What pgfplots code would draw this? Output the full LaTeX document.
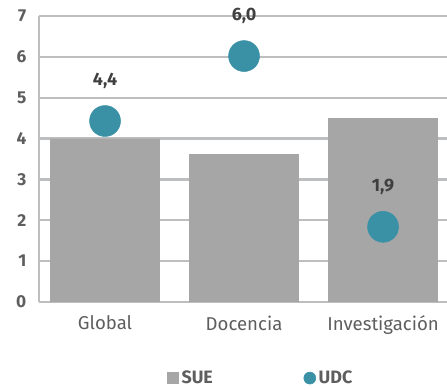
\documentclass[border=0pt]{standalone}
\usepackage{pgfplots}
\pgfplotsset{compat=1.18}
\usepackage{fontspec}
\setmainfont{Fira Sans}
\definecolor{barg}{rgb}{0.651,0.651,0.651}
\definecolor{udcc}{rgb}{0.227,0.569,0.651}
\definecolor{mygrid}{rgb}{0.74,0.745,0.75}
\definecolor{tickc}{rgb}{0.37,0.37,0.37}
\definecolor{labc}{rgb}{0.25,0.25,0.25}
\begin{document}
\begin{tikzpicture}
\begin{axis}[
  set layers,
  at={(0,0)}, anchor=south west,
  scale only axis, width=306bp, height=214.5bp,
  xmin=-0.475, xmax=2.46, ymin=0, ymax=7,
  axis x line*=bottom, axis y line*=left,
  axis line style={draw=mygrid, line width=1.8bp},
  ymajorgrids=true,
  major grid style={draw=mygrid, line width=1.8bp},
  ytick={0,1,2,3,4,5,6,7}, xtick={0,1,2},
  xticklabels={Global, Docencia, Investigación},
  tick style={draw=none},
  /pgf/number format/assume math mode=true,
  yticklabel style={font=\fontsize{13}{15}\selectfont\bfseries, text=tickc, xshift=-6bp},
  xticklabel style={font=\fontsize{14}{16}\selectfont, text=tickc, yshift=-7bp},
  legend style={at={(0.544,-0.266)}, anchor=center, draw=none, fill=none,
    font=\fontsize{13.5}{15}\selectfont\bfseries, text=tickc, legend columns=2,
    /tikz/every even column/.append style={column sep=66bp}},
  legend cell align=left,
]
\addplot[ybar, bar width=0.79, fill=barg, draw=none,
  legend image code/.code={\fill[barg] (0bp,-4.5bp) rectangle (9bp,4.5bp);}]
  coordinates {(0,4.0) (1,3.62) (2,4.5)};
\addlegendentry{SUE}
\addplot[color=udcc, only marks, mark=*, mark size=11.6bp, mark options={fill=udcc, draw=none},
  nodes near coords, point meta=explicit symbolic,
  every node near coord/.style={anchor=center, yshift=30bp, font=\fontsize{13.5}{15}\selectfont\bfseries, text=labc},
  legend image code/.code={\fill[udcc] (4.5bp,0bp) circle (4.5bp);}]
  table[meta=lab] {
x y lab
0 4.43 {4,4}
1 6.02 {6,0}
2 1.84 {1,9}
};
\addlegendentry{UDC}
\end{axis}
\pgfresetboundingbox
\path (-29.25bp,-66bp) rectangle (306bp,226.5bp);
\end{tikzpicture}
\end{document}
